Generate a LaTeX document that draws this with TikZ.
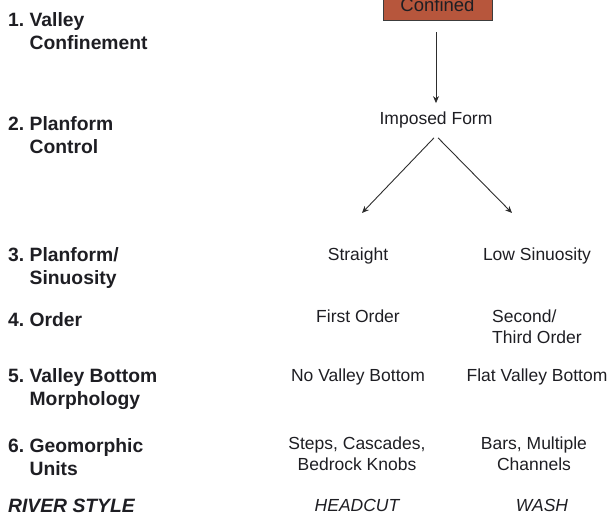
\documentclass[tikz,border=0pt]{standalone}
\usepackage{fontspec}
\setmainfont{Liberation Sans}
\usetikzlibrary{arrows.meta}
\definecolor{txt}{RGB}{30,30,35}
\definecolor{boxfill}{RGB}{183,86,60}
\definecolor{boxline}{RGB}{60,60,60}
\definecolor{arrc}{RGB}{45,45,45}
\tikzset{
  lbl/.style={inner sep=0pt, anchor=base west, text=txt, font=\fontsize{19.3}{23}\selectfont\bfseries},
  itm/.style={inner sep=0pt, anchor=base, text=txt, font=\fontsize{17.5}{21}\selectfont},
  itml/.style={inner sep=0pt, anchor=base west, text=txt, font=\fontsize{17.5}{21}\selectfont},
  conbox/.style={draw=boxline, line width=0.8pt, fill=boxfill, minimum width=109pt, minimum height=30pt, inner sep=0pt, text=txt, font=\fontsize{18.5}{22}\selectfont},
  arr/.style={draw=arrc, line width=0.9pt, -{Stealth[length=7pt,width=6pt]}}
}
\begin{document}
\begin{tikzpicture}[x=1pt,y=1pt]
\useasboundingbox (0,0) rectangle (611,516);
% left labels
\node[lbl] (l1) at (8,489) {\begin{tabular}[t]{@{}l@{}}1.\ Valley\\\hphantom{1.\ }Confinement\end{tabular}};
\node[lbl] (l2) at (8,385) {\begin{tabular}[t]{@{}l@{}}2.\ Planform\\\hphantom{2.\ }Control\end{tabular}};
\node[lbl] (l3) at (8,254) {\begin{tabular}[t]{@{}l@{}}3.\ Planform/\\\hphantom{3.\ }Sinuosity\end{tabular}};
\node[lbl] (l4) at (8,189) {4.\ Order};
\node[lbl] (l5) at (8,133) {\begin{tabular}[t]{@{}l@{}}5.\ Valley Bottom\\\hphantom{5.\ }Morphology\end{tabular}};
\node[lbl] (l6) at (8,63) {\begin{tabular}[t]{@{}l@{}}6.\ Geomorphic\\\hphantom{6.\ }Units\end{tabular}};
\node[lbl, font=\fontsize{19.3}{23}\selectfont\bfseries\itshape] (rs) at (8,3) {RIVER STYLE};
% right column
\node[conbox] (conf) at (437.5,511) {Confined};
\node[itm] (imp) at (436,391) {Imposed Form};
\node[itm] (str) at (358,255) {Straight};
\node[itm] (low) at (537,255) {Low Sinuosity};
\node[itm] (fo) at (358,193) {First Order};
\node[itml] (so) at (492,193) {\begin{tabular}[t]{@{}l@{}}Second/\\Third Order\end{tabular}};
\node[itm] (nvb) at (358,134) {No Valley Bottom};
\node[itm] (fvb) at (537,134) {Flat Valley Bottom};
\node[itm] (stp) at (357,66) {\begin{tabular}[t]{@{}c@{}}Steps, Cascades,\\Bedrock Knobs\end{tabular}};
\node[itm] (bar) at (534,66) {\begin{tabular}[t]{@{}c@{}}Bars, Multiple\\Channels\end{tabular}};
\node[itm, font=\fontsize{17.5}{21}\selectfont\itshape] (hc) at (357,4) {HEADCUT};
\node[itm, font=\fontsize{17.5}{21}\selectfont\itshape] (wa) at (542,4) {WASH};
% arrows
\coordinate (sl) at (362,303);
\coordinate (sr) at (512,303);
\draw[arr, shorten <=12pt, shorten >=9pt] (conf.south -| imp.north) -- (imp.north);
\draw[arr] ([xshift=-2pt,yshift=-9pt]imp.south) -- (sl);
\draw[arr] ([xshift=2pt,yshift=-9pt]imp.south) -- (sr);
\end{tikzpicture}
\end{document}
